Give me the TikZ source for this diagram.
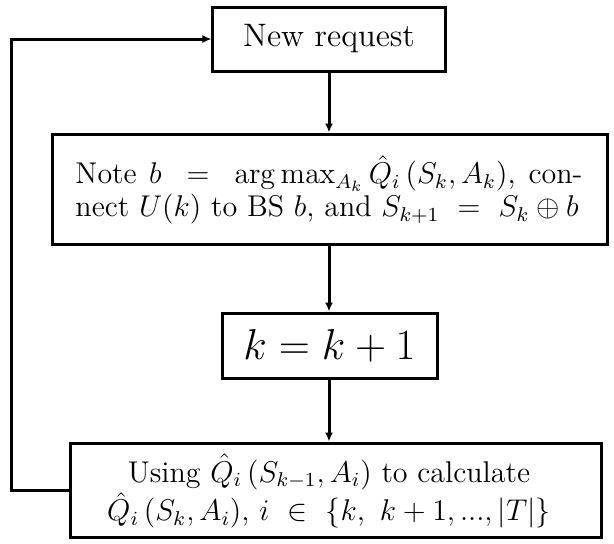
\documentclass[tikz,border=0pt]{standalone}
\usepackage{amsmath}
\usetikzlibrary{arrows.meta}
\begin{document}
\begin{tikzpicture}[x=0.4pt,y=-0.4pt,
  box/.style={draw, line width=1.2pt, inner sep=0pt, anchor=center},
  bodyfont/.style={font=\fontsize{12}{12.2}\selectfont},
  conn/.style={line width=1.2pt, -{Latex[length=3.6pt,width=3.2pt]}}]
\useasboundingbox (0,0) rectangle (614,543);
\node[box, minimum width=92.8pt, minimum height=25.6pt, font=\fontsize{13}{15}\selectfont] (req) at (329,39) {New request};
\node[box, minimum width=221.6pt, minimum height=44pt] (note) at (330,189) {};
\node[bodyfont, text width=202.8pt, align=justify, inner sep=0pt] (notetext) at (329,190)
  {\parfillskip=0pt Note $b\ =\ \arg\max_{A_k}\hat{Q}_i\left(S_k,A_k\right)$, con-\linebreak nect $U(k)$ to BS $b$, and $S_{k+1}\ =\ S_k\oplus b$};
\node[box, minimum width=86pt, minimum height=26pt, font=\fontsize{16}{19}\selectfont] (inc) at (329.5,345.5) {$k = k+1$};
\node[box, minimum width=212pt, minimum height=37.6pt] (upd) at (336,490) {};
\node[bodyfont, align=center, inner sep=0pt] (updtext) at (329,491)
  {Using $\hat{Q}_i\left(S_{k-1},A_i\right)$ to calculate\\ $\hat{Q}_i\left(S_k,A_i\right)$, $i\ \in\ \{k,\ k+1,...,|T|\}$};
\coordinate (lb) at (11,490);
\coordinate (lt) at (11,39);
\draw[conn] (req.south) -- (note.north -| req.south);
\draw[conn] (note.south -| req.south) -- (inc.north -| req.south);
\draw[conn] (inc.south -| req.south) -- (upd.north -| req.south);
\draw[conn] (upd.west) -- (lb) -- (lt) -- (req.west);
\end{tikzpicture}
\end{document}
